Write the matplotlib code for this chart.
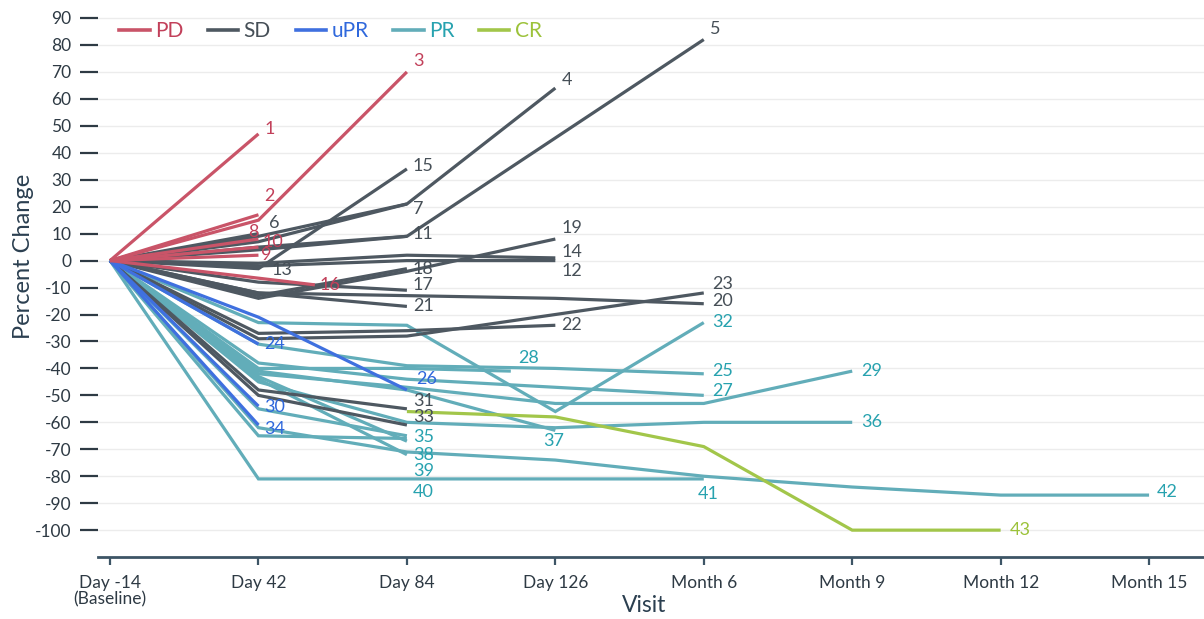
import matplotlib
matplotlib.use('Agg')
import matplotlib.pyplot as plt
from matplotlib.lines import Line2D

plt.rcParams['font.family'] = ['Lato', 'DejaVu Sans']

# visits along the x axis
visit_labels = ['Day -14\n(Baseline)', 'Day 42', 'Day 84', 'Day 126',
                'Month 6', 'Month 9', 'Month 12', 'Month 15']

# one entry per patient: id, response, visit index, percent change
patient_ids = list(range(1, 44))
response = ['PD', 'PD', 'PD', 'SD', 'SD', 'SD', 'SD', 'PD', 'PD', 'PD',
            'SD', 'SD', 'SD', 'SD', 'SD', 'PD', 'SD', 'SD', 'SD', 'SD',
            'SD', 'SD', 'SD', 'uPR', 'PR', 'uPR', 'PR', 'PR', 'PR', 'uPR',
            'SD', 'PR', 'SD', 'uPR', 'PR', 'PR', 'PR', 'PR', 'PR', 'PR',
            'PR', 'PR', 'CR']
visits = [
    [0, 1], [0, 1], [0, 1, 2], [0, 1, 2, 3], [0, 1, 2, 4],          # 1-5
    [0, 1], [0, 1, 2], [0, 1], [0, 1], [0, 1],                      # 6-10
    [0, 1, 2], [0, 1, 2, 3], [0, 1], [0, 1, 2, 3], [0, 1, 2],       # 11-15
    [0, 1.38], [0, 1, 2], [0, 1, 2], [0, 1, 2, 3], [0, 1, 2, 3, 4], # 16-20
    [0, 1, 2], [0, 1, 2, 3], [0, 1, 2, 4], [0, 1], [0, 1, 2, 3, 4], # 21-25
    [0, 1, 2], [0, 1, 2, 3, 4], [0, 1, 2, 2.7], [0, 1, 2, 3, 4, 5], [0, 1],  # 26-30
    [0, 1, 2], [0, 1, 2, 3, 4], [0, 1, 2], [0, 1], [0, 1, 2],       # 31-35
    [0, 1, 2, 3, 4, 5], [0, 1, 2, 3], [0, 1, 2], [0, 1, 2], [0, 1, 2],  # 36-40
    [0, 1, 2, 3, 4], [0, 1, 2, 3, 4, 5, 6, 7], [2, 3, 4, 5, 6],     # 41-43
]
values = [
    [0, 47], [0, 17], [0, 15, 70], [0, 7, 21, 64], [0, 4, 9, 82],
    [0, 10], [0, 9, 21], [0, 8], [0, 2], [0, 5],
    [0, 5, 9], [0, -2, 0, 0], [0, -2], [0, -1, 2, 1], [0, -3, 34],
    [0, -9], [0, -8, -11], [0, -13, -3], [0, -14, -4, 8], [0, -12, -13, -14, -16],
    [0, -12, -17], [0, -27, -26, -24], [0, -29, -28, -12], [0, -31], [0, -31, -39, -40, -42],
    [0, -21, -48], [0, -38, -44, -47, -50], [0, -40, -40, -41], [0, -42, -47, -53, -53, -41], [0, -54],
    [0, -48, -55], [0, -23, -24, -56, -23], [0, -50, -61], [0, -61], [0, -55, -65],
    [0, -45, -60, -62, -60, -60], [0, -41, -48, -63], [0, -44, -72], [0, -43, -67], [0, -65, -66],
    [0, -81, -81, -81, -81], [0, -62, -71, -74, -80, -84, -87, -87], [-56, -58, -69, -100, -100],
]
# nudges of the id labels from the line ends (x in visits, y in percent)
label_dx = [0.04, 0.04, 0.04, 0.04, 0.04, 0.07, 0.04, -0.07, 0.02, 0.03,
            0.04, 0.04, 0.09, 0.04, 0.04, 0.03, 0.04, 0.04, 0.04, 0.06,
            0.04, 0.04, 0.06, 0.04, 0.06, 0.06, 0.06, 0.05, 0.06, 0.04,
            0.04, 0.06, 0.04, 0.04, 0.04, 0.06, -0.08, 0.04, 0.04, 0.04,
            -0.04, 0.05, 0.06]
label_dy = [2, 7, 4, 3, 4, 4, -2, 2.5, 0, 2,
            1, -4, -1.5, 2.3, 1, 0, 2, 0, 4, 1,
            0, 0, 3.5, 0, 1, 4, 1.5, 5, 0, -0.5,
            3, 0.4, 3, -1.5, -0.3, 0, -4, 0, -11, -20,
            -5.5, 1.3, 0]

line_colors = {'PD': '#c95468', 'SD': '#4e5861', 'uPR': '#3f70df',
               'PR': '#62adb9', 'CR': '#a2c64a'}
text_colors = {'PD': '#c2405a', 'SD': '#464f57', 'uPR': '#2f68dc',
               'PR': '#27a2af', 'CR': '#9cc23a'}
layer = {'PR': 2, 'CR': 2.5, 'SD': 3, 'uPR': 4, 'PD': 5}

fig = plt.figure(figsize=(12.04, 6.19), dpi=100)
ax = fig.add_axes([0.0814, 0.1, 0.9186, 0.8927])

for pid, resp, xs, ys, dx, dy in zip(patient_ids, response, visits, values, label_dx, label_dy):
    ax.plot(xs, ys, color=line_colors[resp], lw=2.3, zorder=layer[resp],
            solid_joinstyle='miter', solid_capstyle='butt')
    ax.text(xs[-1] + dx, ys[-1] + dy, str(pid), color=text_colors[resp],
            fontsize=13, ha='left', va='center', zorder=6)

ax.set_xlim(-0.081, 7.37)
ax.set_ylim(-110, 95)
ax.set_xticks(range(len(visit_labels)))
ax.set_xticklabels(visit_labels, fontsize=12.5, color='#2e3a44', linespacing=1.05)
ax.set_yticks(range(-100, 91, 10))
ax.set_yticklabels([str(v) for v in range(-100, 91, 10)], fontsize=12.5, color='#2e3a44')
ax.tick_params(axis='y', length=13, width=1.6, color='#2e3a44', pad=6, direction='out')
ax.tick_params(axis='x', length=6, width=1.6, color='#3d5566', pad=7, direction='out')

for spine in ['top', 'right', 'left']:
    ax.spines[spine].set_visible(False)
ax.spines['bottom'].set_color('#3d5566')
ax.spines['bottom'].set_linewidth(2)

ax.grid(axis='y', color='#ececec', lw=1)
ax.set_axisbelow(True)

ax.set_ylabel('Percent Change', fontsize=17, color='#2b3f50')
ax.yaxis.set_label_coords(-0.058, 0.545)
ax.set_xlabel('Visit', fontsize=16.5, color='#2b3f50')
ax.xaxis.set_label_coords(0.494, -0.068)

handles = [Line2D([0], [0], color=line_colors[k], lw=2.6) for k in line_colors]
leg = ax.legend(handles, list(line_colors), loc='upper left', bbox_to_anchor=(0.008, 0.993),
                ncol=5, frameon=False, fontsize=15, handlelength=1.45, handletextpad=0.25,
                columnspacing=1.2, borderaxespad=0.2)
for txt, k in zip(leg.get_texts(), line_colors):
    txt.set_color(text_colors[k])

fig.savefig('out.png', dpi=100)
